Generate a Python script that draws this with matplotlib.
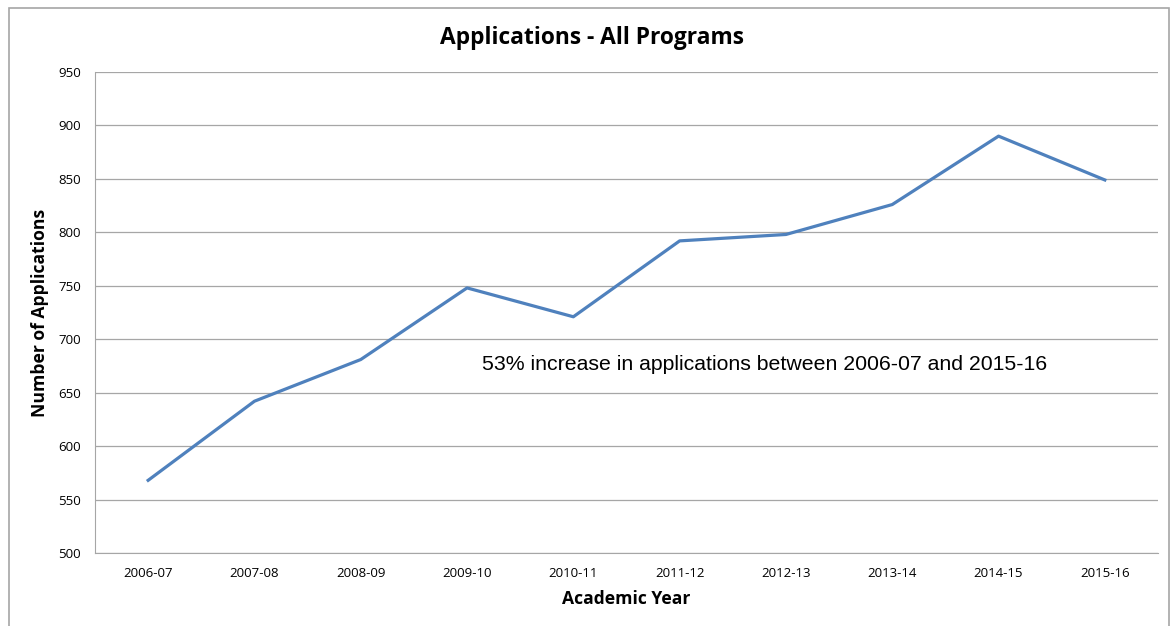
import matplotlib.pyplot as plt
from matplotlib.patches import Rectangle

years = ['2006-07', '2007-08', '2008-09', '2009-10', '2010-11',
         '2011-12', '2012-13', '2013-14', '2014-15', '2015-16']
applications = [568, 642, 681, 748, 721, 792, 798, 826, 890, 849]
yticks = [500, 550, 600, 650, 700, 750, 800, 850, 900, 950]

plt.rcParams['font.family'] = ['Open Sans', 'DejaVu Sans']

fig = plt.figure(figsize=(11.75, 6.26), dpi=100)
W, H = 1175, 626
ax = fig.add_axes([95 / W, 1 - 553 / H, (1158 - 95) / W, (553 - 72) / H])

# outer chart border
fig.patches.append(Rectangle((9 / W, -0.05), (1169 - 9) / W, 1.05 - 8 / H,
                             transform=fig.transFigure, fill=False,
                             edgecolor='#a6a6a6', linewidth=1.2))

x = list(range(len(years)))
ax.plot(x, applications, color='#4f81bd', linewidth=2.3)

ax.set_xlim(-0.5, len(years) - 0.5)
ax.set_ylim(500, 950)
ax.set_xticks(x)
ax.set_xticklabels(years, fontsize=9.5)
ax.set_yticks(yticks)
ax.set_yticklabels([str(v) for v in yticks], fontsize=9.5)
ax.tick_params(length=0, pad=10)
ax.grid(axis='y', color='#a6a6a6', linewidth=0.9)
ax.set_axisbelow(True)

for s in ['top', 'right']:
    ax.spines[s].set_visible(False)
ax.spines['left'].set_color('#a6a6a6')
ax.spines['bottom'].set_color('#a6a6a6')

ax.set_xlabel('Academic Year', fontsize=12.6, fontweight='bold', labelpad=7)
ax.set_ylabel('Number of Applications', fontsize=12.6, fontweight='bold', labelpad=7)
fig.text(592 / W, 1 - 38 / H, 'Applications - All Programs', ha='center', va='center',
         fontsize=16.4, fontweight='bold')

ax.text(3.14, 676, '53% increase in applications between 2006-07 and 2015-16',
        fontsize=15.3, family='Liberation Sans', va='center')

plt.savefig('out.png', dpi=100)
